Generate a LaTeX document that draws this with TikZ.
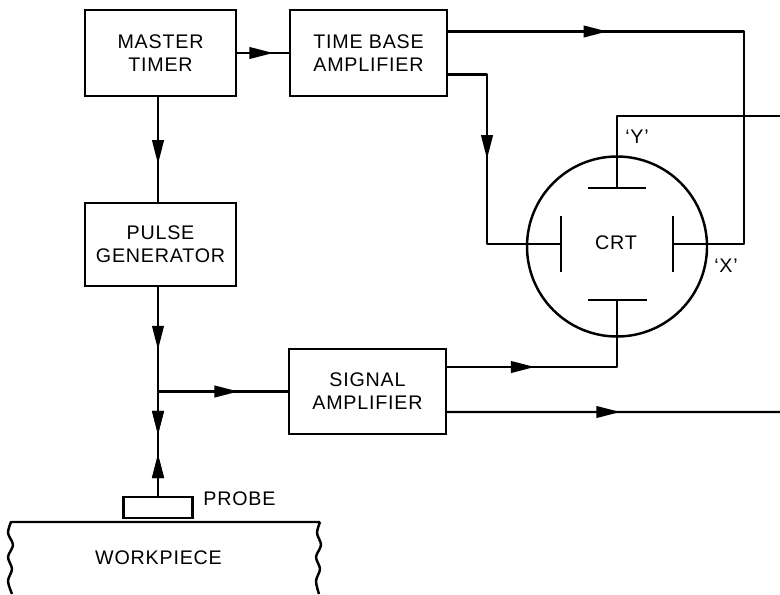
\documentclass[tikz,border=0pt]{standalone}
\usepackage{fontspec}
\setmainfont[LetterSpace=4]{Liberation Sans}
\usetikzlibrary{arrows.meta,decorations.markings}
\tikzset{
  block/.style={draw,line width=0.7pt,align=center,inner sep=0pt},
  wire/.style={line width=0.7pt,line join=round},
  midarrow/.style={postaction={decorate},decoration={markings,mark=at position #1 with {\arrow{Stealth[length=2.4mm,width=1.15mm,inset=0pt]}}}},
  backarrow/.style={postaction={decorate},decoration={markings,mark=at position #1 with {\arrowreversed{Stealth[length=2.4mm,width=1.15mm,inset=0pt]}}}}
}
\begin{document}
\begin{tikzpicture}[font=\fontsize{5.6}{6.55}\selectfont]
\useasboundingbox (0,0) rectangle (7.8,5.94);
% blocks
\node[block,minimum width=1.51cm,minimum height=0.86cm] (master) at (1.605,5.41) {MASTER\\TIMER};
\node[block,minimum width=1.57cm,minimum height=0.86cm] (timebase) at (3.685,5.41) {TIME BASE\\AMPLIFIER};
\node[block,minimum width=1.51cm,minimum height=0.83cm] (pulse) at (1.605,3.495) {PULSE\\GENERATOR};
\node[block,minimum width=1.57cm,minimum height=0.85cm] (signal) at (3.675,2.025) {SIGNAL\\AMPLIFIER};
\node[block,minimum width=0.69cm,minimum height=0.21cm] (probe) at (1.58,0.865) {};
\node[anchor=west] (probelabel) at (1.91,0.95) {PROBE};
\node (workpiece) at (1.585,0.36) {WORKPIECE};
% tube
\node[draw,circle,line width=0.7pt,minimum size=1.8cm,inner sep=0pt] (crt) at (6.17,3.475) {};
\node (crtlabel) at (6.16,3.51) {CRT};
\coordinate (platey) at (6.17,4.06);
\coordinate (platebottom) at (6.17,2.94);
\coordinate (plateleft) at (5.61,3.5);
\coordinate (plateright) at (6.73,3.5);
\draw[wire] ([xshift=-2.9mm]platey) -- ([xshift=2.9mm]platey);
\draw[wire] ([xshift=-2.9mm]platebottom) -- ([xshift=3mm]platebottom);
\draw[wire] ([yshift=-2.8mm]plateleft) -- ([yshift=2.8mm]plateleft);
\draw[wire] ([yshift=-2.8mm]plateright) -- ([yshift=2.8mm]plateright);
\node (ylabel) at (6.37,4.57) {`Y'};
\node (xlabel) at (7.26,3.28) {`X'};
% connectors
\coordinate (spine) at (1.58,3);
\coordinate (junction) at (spine|-signal.west);
\coordinate (xturn) at (7.44,3.5);
\coordinate (leftturn) at (4.87,3.5);
\coordinate (yturn) at (6.17,4.78);
\coordinate (yend) at (7.8,4.78);
\coordinate (timeend) at (7.8,1.82);
\draw[wire,midarrow=0.64] (spine|-master.south) -- (spine|-pulse.north);
\draw[wire,midarrow=0.7] (master.east) -- (timebase.west);
\draw[wire,midarrow=0.6] (spine|-pulse.south) -- (junction);
\draw[wire,midarrow=0.62] (junction) -- (signal.west);
\draw[wire,midarrow=0.415,backarrow=0.6] (junction) -- (spine|-probe.north);
\draw[wire,midarrow=0.275] ([yshift=2.15mm]timebase.east) -| (xturn) -- (plateright);
\draw[wire,midarrow=0.437] ([yshift=-2.15mm]timebase.east) -| (leftturn) -- (plateleft);
\draw[wire,midarrow=0.37] ([yshift=2.45mm]signal.east) -| (platebottom);
\draw[wire,midarrow=0.52] ([yshift=-2.05mm]signal.east) -- (timeend);
\draw[wire] (platey) -- (yturn) -- (yend);
% workpiece edge
\draw[wire] plot[smooth] coordinates {(0.12,0) (0.08,0.13) (0.12,0.25) (0.08,0.37) (0.13,0.49) (0.08,0.61) (0.11,0.72)}
  -- (3.2,0.72) plot[smooth] coordinates {(3.2,0.72) (3.17,0.61) (3.21,0.49) (3.16,0.37) (3.2,0.25) (3.16,0.13) (3.19,0)};
\end{tikzpicture}
\end{document}
